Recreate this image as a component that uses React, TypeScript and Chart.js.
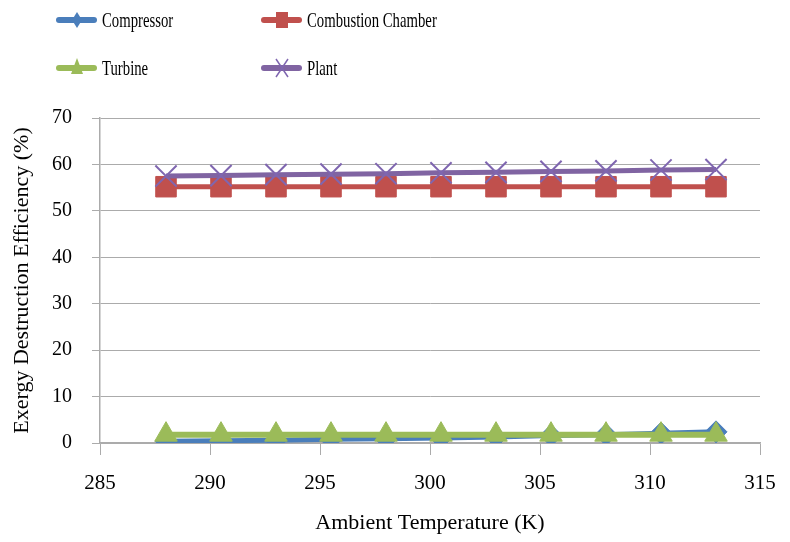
import React, { useEffect, useRef } from "react";
import { Chart, registerables } from "chart.js";

Chart.register(...registerables);

const temperatures = [288, 290.5, 293, 295.5, 298, 300.5, 303, 305.5, 308, 310.5, 313];
const compressor = [0.4, 0.5, 0.6, 0.8, 0.9, 1.1, 1.3, 1.6, 1.8, 2.1, 2.4];
const combustionChamber = [55.2, 55.2, 55.2, 55.2, 55.2, 55.2, 55.2, 55.2, 55.2, 55.2, 55.2];
const turbine = [1.8, 1.8, 1.8, 1.8, 1.8, 1.8, 1.8, 1.8, 1.8, 1.8, 1.8];
const plant = [57.5, 57.6, 57.8, 57.9, 58.0, 58.2, 58.3, 58.5, 58.6, 58.8, 58.9];
const seriesNames = ["Compressor", "Combustion Chamber", "Turbine", "Plant"];

const FONT = "'Liberation Serif', 'Times New Roman', serif";
const BLUE = "#4A7EBB";
const RED = "#C0504D";
const GREEN = "#9BBB59";
const PURPLE = "#8064A2";
const GRID = "#ABABAB";

const toPoints = (ys: number[]) => temperatures.map((x, i) => ({ x, y: ys[i] }));

const legendPlugin = {
  id: "gridLegend",
  afterDraw(chart: any) {
    const ctx = chart.ctx as CanvasRenderingContext2D;
    const colX = [58, 263];
    const rowY = [20, 68];
    chart.data.datasets.forEach((ds: any, i: number) => {
      const x0 = colX[i % 2];
      const y = rowY[Math.floor(i / 2)];
      const color = ds.borderColor;
      ctx.save();
      ctx.strokeStyle = color;
      ctx.lineWidth = 6;
      ctx.lineCap = "round";
      ctx.beginPath();
      ctx.moveTo(x0 + 1, y);
      ctx.lineTo(x0 + 36, y);
      ctx.stroke();
      const cx = x0 + 19;
      ctx.fillStyle = ds.pointBackgroundColor;
      ctx.strokeStyle = ds.pointBorderColor;
      ctx.beginPath();
      if (i === 0) {
        ctx.moveTo(cx, y - 8);
        ctx.lineTo(cx + 5, y);
        ctx.lineTo(cx, y + 8);
        ctx.lineTo(cx - 5, y);
        ctx.closePath();
        ctx.fill();
      } else if (i === 1) {
        ctx.rect(cx - 6, y - 8, 12, 16);
        ctx.fill();
      } else if (i === 2) {
        ctx.moveTo(cx, y - 10);
        ctx.lineTo(cx + 6, y + 6);
        ctx.lineTo(cx - 6, y + 6);
        ctx.closePath();
        ctx.fill();
      } else {
        ctx.lineWidth = 1.5;
        ctx.lineCap = "butt";
        ctx.moveTo(cx - 6, y - 9);
        ctx.lineTo(cx + 6, y + 9);
        ctx.moveTo(cx + 6, y - 9);
        ctx.lineTo(cx - 6, y + 9);
        ctx.stroke();
      }
      ctx.translate(colX[i % 2] + 44, y + 1);
      ctx.scale(0.67, 1);
      ctx.fillStyle = "#000";
      ctx.font = `22px ${FONT}`;
      ctx.textBaseline = "middle";
      ctx.textAlign = "left";
      ctx.fillText(seriesNames[i], 0, 0);
      ctx.restore();
    });
  },
};

export default function App() {
  const canvasRef = useRef<HTMLCanvasElement | null>(null);

  useEffect(() => {
    if (!canvasRef.current) return;
    const chart = new Chart(canvasRef.current, {
      type: "line",
      data: {
        datasets: [
          {
            label: seriesNames[0],
            data: toPoints(compressor),
            borderColor: BLUE,
            backgroundColor: BLUE,
            pointBackgroundColor: BLUE,
            pointBorderColor: BLUE,
            borderWidth: 5,
            pointStyle: "rectRot",
            pointRadius: 11,
            pointBorderWidth: 1,
            order: 3,
          },
          {
            label: seriesNames[1],
            data: toPoints(combustionChamber),
            borderColor: RED,
            backgroundColor: RED,
            pointBackgroundColor: RED,
            pointBorderColor: RED,
            borderWidth: 5,
            pointStyle: "rect",
            pointRadius: 14.5,
            pointBorderWidth: 1,
            order: 2,
          },
          {
            label: seriesNames[2],
            data: toPoints(turbine),
            borderColor: GREEN,
            backgroundColor: GREEN,
            pointBackgroundColor: GREEN,
            pointBorderColor: GREEN,
            borderWidth: 6,
            pointStyle: "triangle",
            pointRadius: 13,
            pointBorderWidth: 1,
            order: 1,
          },
          {
            label: seriesNames[3],
            data: toPoints(plant),
            borderColor: PURPLE,
            backgroundColor: PURPLE,
            pointBackgroundColor: PURPLE,
            pointBorderColor: "#7F66B0",
            borderWidth: 5,
            pointStyle: "crossRot",
            pointRadius: 15,
            pointBorderWidth: 2,
            order: 0,
          },
        ],
      },
      options: {
        animation: false,
        responsive: true,
        maintainAspectRatio: false,
        layout: { padding: { left: 5, right: 30, top: 118, bottom: 0 } },
        plugins: { legend: { display: false }, tooltip: { enabled: false } },
        elements: { line: { tension: 0 } },
        scales: {
          x: {
            type: "linear",
            min: 285,
            max: 315,
            ticks: {
              stepSize: 5,
              color: "#000",
              padding: 16,
              font: { family: FONT, size: 21 },
            },
            grid: { drawOnChartArea: false, drawTicks: true, tickLength: 12, color: GRID },
            border: { color: GRID, width: 1.5 },
            title: {
              display: true,
              text: "Ambient Temperature (K)",
              color: "#000",
              font: { family: FONT, size: 22 },
              padding: { top: 0, bottom: 6 },
            },
            afterFit(scale: any) {
              scale.height = 99;
              scale.paddingRight = 0;
            },
          },
          y: {
            min: 0,
            max: 70,
            ticks: {
              stepSize: 10,
              color: "#000",
              padding: 20,
              font: { family: FONT, size: 20 },
            },
            grid: { color: GRID, tickLength: 8 },
            border: { color: GRID, width: 1.5 },
            title: {
              display: true,
              text: "Exergy Destruction Efficiency (%)",
              color: "#000",
              font: { family: FONT, size: 22 },
              padding: { top: 4, bottom: 4 },
            },
            afterFit(scale: any) {
              scale.width = 95;
            },
          },
        },
      },
      plugins: [legendPlugin],
    });
    return () => chart.destroy();
  }, []);

  return (
    <div style={{ position: "absolute", left: 0, top: 0, width: 790, height: 542, background: "#fff" }}>
      <canvas ref={canvasRef} />
    </div>
  );
}
